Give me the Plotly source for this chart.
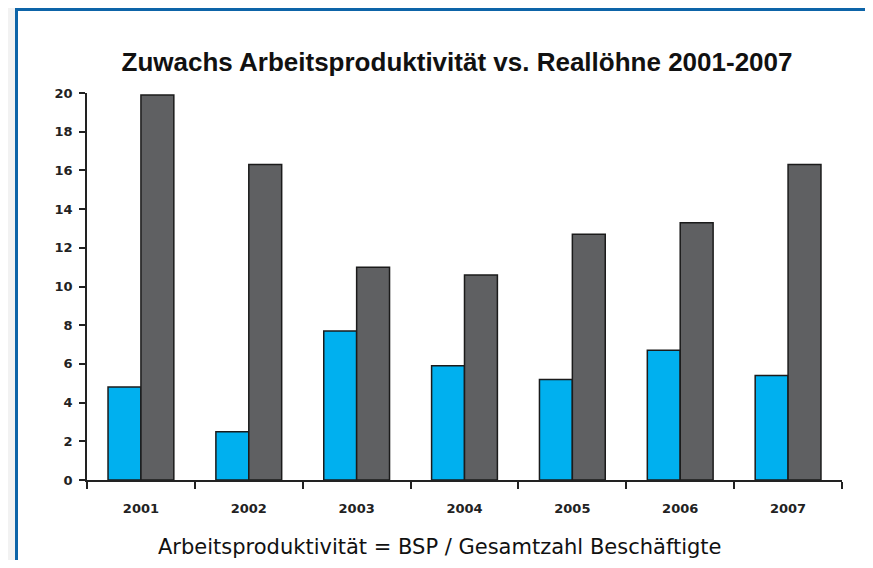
import plotly.graph_objects as go

years = ["2001", "2002", "2003", "2004", "2005", "2006", "2007"]
produktivitaet = [4.8, 2.5, 7.7, 5.9, 5.2, 6.7, 5.4]
realloehne = [19.9, 16.3, 11.0, 10.6, 12.7, 13.3, 16.3]
y_ticks = [0, 2, 4, 6, 8, 10, 12, 14, 16, 18, 20]

# page has an 8px body margin: figure fits inside the 873x568 window
W, H = 857, 552
L, R, T, B = 79, 23, 85, 80
pw, ph = W - L - R, H - T - B

def px(x):
    return (x - L) / pw

def py(y):
    return (H - B - y) / ph

fig = go.Figure()
fig.add_trace(go.Bar(x=years, y=produktivitaet,
                     marker=dict(color="#00b0ef", line=dict(color="#1b1b1b", width=1.5)),
                     name="Arbeitsproduktivität"))
fig.add_trace(go.Bar(x=years, y=realloehne,
                     marker=dict(color="#5f6062", line=dict(color="#1b1b1b", width=1.5)),
                     name="Reallöhne"))

tick_font = dict(family="DejaVu Sans", size=13, color="#222", weight="bold")

fig.update_layout(
    width=W, height=H,
    margin=dict(l=L, r=R, t=T, b=B),
    paper_bgcolor="#f2f2f2",
    plot_bgcolor="rgba(0,0,0,0)",
    showlegend=False,
    barmode="group",
    bargap=0.39,
    bargroupgap=0,
    title=dict(text="<b>Zuwachs Arbeitsproduktivität vs. Reallöhne 2001-2007</b>",
               font=dict(family="Liberation Sans", size=26, color="#111"),
               xref="container", x=449 / W, xanchor="center",
               yref="container", y=1 - 54 / H, yanchor="middle"),
    xaxis=dict(showline=True, linecolor="#222", linewidth=1.5, ticks="outside", tickson="boundaries",
               ticklen=7, tickwidth=1.5, tickcolor="#222", showgrid=False,
               tickfont=tick_font, ticklabelstandoff=16),
    yaxis=dict(range=[0, 20], tickvals=y_ticks, showline=True, linecolor="#222", linewidth=1.5,
               ticks="outside", ticklen=6, tickwidth=1.5, tickcolor="#222", showgrid=False, zeroline=False,
               tickfont=tick_font, ticklabelstandoff=4),
    shapes=[dict(type="rect", xref="paper", yref="paper", layer="below",
                 x0=px(8.5), x1=px(W + 20), y0=py(H + 20), y1=py(1.5),
                 fillcolor="white", line=dict(color="#0d64a8", width=3))],
    annotations=[dict(text="Arbeitsproduktivität = BSP / Gesamtzahl Beschäftigte",
                      xref="paper", yref="paper",
                      x=px(431), y=py(539), xanchor="center", yanchor="middle", showarrow=False,
                      font=dict(family="DejaVu Sans", size=21, color="#111"))],
)

fig.write_html("out.html")
